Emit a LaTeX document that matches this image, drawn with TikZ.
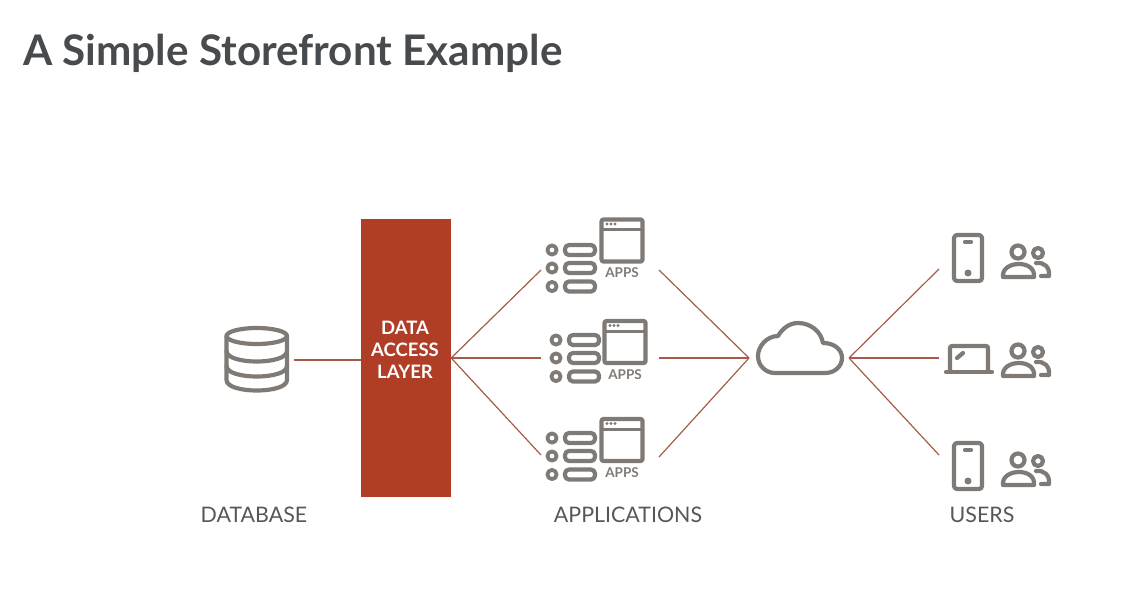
\documentclass[tikz,border=0pt]{standalone}
\usepackage{fontspec}
\setmainfont{Lato}
\usetikzlibrary{positioning}
\definecolor{dalred}{HTML}{B03E27}
\definecolor{linkred}{HTML}{A85A48}
\definecolor{icongray}{HTML}{7F7A75}
\definecolor{titlegray}{HTML}{484B4D}
\definecolor{labelgray}{HTML}{55575A}
\tikzset{
  icon/.style={draw=icongray, line width=4.2pt, line cap=round, line join=round},
  link/.style={draw=linkred, line width=1.2pt},
  caption/.style={text=labelgray, font=\fontsize{21.4}{24}\selectfont, inner sep=0pt},
  phonepic/.pic={
    \draw[icon,rounded corners=3pt] (-14,-23) rectangle (14,23);
    \draw[icon] (-3,-16) -- (3,-16);
    \fill[icongray] (0,15) circle (3.5);
  },
  laptoppic/.pic={
    \draw[icon,rounded corners=2pt] (-18,13) -- (-18,-12) -- (20,-12) -- (20,13);
    \draw[icon] (-22,14) -- (24,14);
    \draw[icon] (-11,0) -- (-5,-5);
  },
  userspic/.pic={
    \draw[icon] (0,0) circle (6.5);
    \draw[icon] (20,1) circle (5);
    \draw[icon] (-15,25) .. controls (-16,16) and (-7,12) .. (1,12)
      .. controls (9,12) and (17,16) .. (16,25) -- cycle;
    \draw[icon] (18,11) .. controls (26,10) and (32,15) .. (31,24) -- (23,24);
  },
  listpic/.pic={
    \foreach \y in {0,18,36.5}{
      \draw[icon,line width=3.8pt] (0,\y) circle (4.6);
      \draw[icon,rounded corners=4pt] (13,\y-5) rectangle (43,\y+5);
    }
  },
  windowpic/.pic={
    \draw[icon,rounded corners=2pt] (-20.5,-21) rectangle (20.5,21);
    \draw[icon,line width=3pt] (-20.5,-11) -- (20.5,-11);
    \foreach \x in {-15,-11,-7}{ \fill[icongray] (\x,-16.5) circle (1.7); }
    \node[text=icongray, font=\bfseries\fontsize{13.5}{15}\selectfont, inner sep=0pt] (-label) at (0,32.5) {APPS};
  }
}
\begin{document}
\begin{tikzpicture}[x=1pt,y=-1pt]
  \useasboundingbox (0,0) rectangle (1148,595);

  \node[anchor=west, text=titlegray, inner sep=0pt, font=\bfseries\fontsize{42.2}{48}\selectfont] (title) at (23,53) {A Simple Storefront Example};

  % database
  \draw[icon] (226.5,336) -- (226.5,380) .. controls (226.5,394) and (287,394) .. (287,380) -- (287,336);
  \draw[icon] (256.75,336) ellipse (30.25 and 8);
  \draw[icon] (226.5,351) .. controls (226.5,365) and (287,365) .. (287,351);
  \draw[icon] (226.5,366) .. controls (226.5,380) and (287,380) .. (287,366);
  \coordinate (db) at (294,360);

  \node[fill=dalred, minimum width=90pt, minimum height=278pt, inner sep=0pt] (dal) at (406,358) {};
  \node[text=white, align=center, font=\bfseries\fontsize{18.5}{22}\selectfont, inner sep=0pt] (dallabel) at (405,350) {DATA\\ACCESS\\LAYER};

  % applications
  \pic (lista) at (552,250) {listpic};
  \pic (listb) at (556,340) {listpic};
  \pic (listc) at (552,438) {listpic};
  \pic (windowa) at (622,240.5) {windowpic};
  \pic (windowb) at (625,342) {windowpic};
  \pic (windowc) at (622,440) {windowpic};
  \coordinate (appsain) at (541,270);
  \coordinate (appsbin) at (541,358);
  \coordinate (appscin) at (541,455);
  \coordinate (appsaout) at (659,270);
  \coordinate (appsbout) at (659,358);
  \coordinate (appscout) at (659,457);

  % cloud
  \draw[icon] (775,373) -- (825,373) .. controls (835,373) and (842,366) .. (842,358)
    .. controls (842,350) and (835,343) .. (823,343)
    .. controls (821,331) and (810,323) .. (798,323)
    .. controls (789,323) and (782,329) .. (778,336)
    .. controls (767,336) and (758,346) .. (758,356)
    .. controls (758,366) and (766,373) .. (775,373) -- cycle;
  \coordinate (cloudin) at (749,358);
  \coordinate (cloudout) at (849,358);

  % users
  \pic (phonea) at (968,258) {phonepic};
  \pic (laptop) at (968,358) {laptoppic};
  \pic (phoneb) at (968,466) {phonepic};
  \pic (usersa) at (1018,252) {userspic};
  \pic (usersb) at (1018,351) {userspic};
  \pic (usersc) at (1018,460) {userspic};
  \coordinate (devicea) at (939,269);
  \coordinate (deviceb) at (939,358);
  \coordinate (devicec) at (939,455);

  \draw[link] (db) -- (dal.west |- db);
  \foreach \n in {appsain,appsbin,appscin}{ \draw[link] (dal.east) -- (\n); }
  \foreach \n in {appsaout,appsbout,appscout}{ \draw[link] (\n) -- (cloudin); }
  \foreach \n in {devicea,deviceb,devicec}{ \draw[link] (cloudout) -- (\n); }

  \node[caption] (dblabel) at (254,515) {DATABASE};
  \node[caption] (appslabel) at (628,515) {APPLICATIONS};
  \node[caption] (userslabel) at (982,515) {USERS};
\end{tikzpicture}
\end{document}
